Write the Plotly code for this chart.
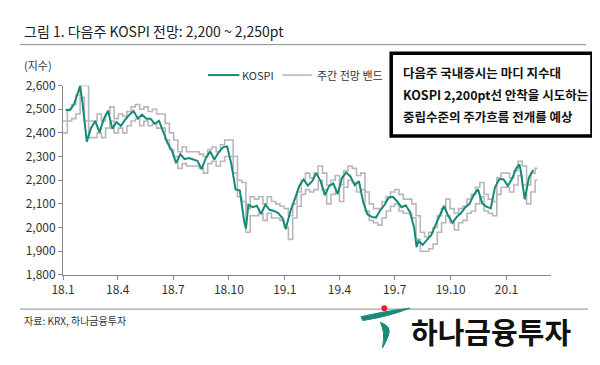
import pandas as pd
import plotly.graph_objects as go

# ---------------- data ----------------
kospi_weekly = [
    # 2018
    2497, 2496, 2521, 2574, 2525, 2363, 2421, 2450, 2402, 2459, 2494, 2417, 2446,
    2429, 2455, 2476, 2492, 2461, 2477, 2460, 2460, 2438, 2451, 2404, 2357, 2326,
    2272, 2310, 2289, 2294, 2287, 2282, 2247, 2293, 2322, 2287, 2318, 2339, 2343,
    2268, 2161, 2156, 2027, 2096, 2086, 2092, 2057, 2097, 2075, 2070, 2061, 2041,
    # 2019
    2010, 2075, 2124, 2177, 2203, 2177, 2196, 2230, 2195, 2137, 2176, 2186, 2141,
    2209, 2233, 2216, 2179, 2196, 2108, 2056, 2045, 2042, 2072, 2095, 2126, 2130,
    2110, 2086, 2094, 2066, 1998, 1943, 1927, 1948, 1968, 2010, 2049, 2091, 2050,
    2020, 2045, 2061, 2085, 2100, 2137, 2162, 2102, 2088, 2081, 2170, 2204, 2204,
    # 2020
    2176, 2206, 2250, 2246, 2119, 2212, 2243,
]
kospi_start = "2018-01-05"   # first weekly (Friday) observation

extreme_dates = ["2018-01-29", "2018-10-29", "2019-01-03", "2019-08-06", "2020-01-22"]
extreme_values = [2598, 1996, 1993, 1917, 2267]

band_lower = [
    # 2018
    2400, 2450, 2460, 2480, 2550, 2450, 2380, 2380, 2400, 2380, 2420, 2450, 2400,
    2420, 2400, 2430, 2450, 2460, 2430, 2450, 2430, 2440, 2420, 2420, 2370, 2330,
    2300, 2250, 2270, 2260, 2260, 2260, 2250, 2230, 2270, 2280, 2260, 2280, 2300,
    2300, 2230, 2130, 2110, 1980, 2050, 2050, 2060, 2030, 2060, 2040, 2040, 2030, 2000,
    # 2019
    1950, 2040, 2090, 2140, 2160, 2150, 2160, 2200, 2160, 2100, 2140, 2150, 2110,
    2170, 2200, 2190, 2150, 2160, 2070, 2030, 2020, 2010, 2040, 2070, 2090, 2100,
    2070, 2060, 2060, 2040, 1950, 1900, 1900, 1910, 1930, 1980, 2020, 2050, 2020,
    1990, 2020, 2030, 2060, 2070, 2100, 2130, 2070, 2060, 2050, 2140, 2170, 2170,
    # 2020
    2150, 2180, 2220, 2180, 2100, 2150, 2200,
]
band_upper = [
    # 2018
    2450, 2500, 2520, 2560, 2600, 2600, 2450, 2450, 2480, 2450, 2480, 2510, 2460,
    2480, 2470, 2490, 2510, 2520, 2500, 2510, 2490, 2500, 2480, 2480, 2440, 2400,
    2370, 2320, 2340, 2320, 2320, 2320, 2310, 2300, 2330, 2340, 2320, 2350, 2370,
    2370, 2300, 2200, 2190, 2080, 2130, 2120, 2130, 2100, 2130, 2110, 2100, 2090, 2080,
    # 2019
    2050, 2100, 2150, 2200, 2230, 2210, 2230, 2260, 2230, 2180, 2200, 2220, 2180,
    2240, 2260, 2250, 2220, 2230, 2150, 2100, 2080, 2080, 2110, 2130, 2150, 2160,
    2140, 2120, 2120, 2100, 2050, 1980, 1960, 1980, 2000, 2050, 2080, 2120, 2080,
    2060, 2080, 2090, 2120, 2140, 2170, 2190, 2140, 2120, 2110, 2210, 2230, 2230,
    # 2020
    2210, 2240, 2280, 2260, 2180, 2230, 2250,
]
band_start = "2018-01-01"    # first weekly (Monday) band

tick_dates = ["2018-01-01", "2018-04-01", "2018-07-01", "2018-10-01", "2019-01-01",
              "2019-04-01", "2019-07-01", "2019-10-01", "2020-01-01"]
tick_labels = ["18.1", "18.4", "18.7", "18.10", "19.1", "19.4", "19.7", "19.10", "20.1"]

y_ticks = [1800, 1900, 2000, 2100, 2200, 2300, 2400, 2500, 2600]

# ---------------- build series ----------------
kd = pd.date_range(kospi_start, periods=len(kospi_weekly), freq="W-FRI")
ks = pd.Series(kospi_weekly, index=kd)
ks = pd.concat([ks, pd.Series(extreme_values, index=pd.to_datetime(extreme_dates))]).sort_index()

bd = list(pd.date_range(band_start, periods=len(band_lower), freq="W-MON"))
bx = bd + [bd[-1] + pd.Timedelta(days=4)]
bl = band_lower + [band_lower[-1]]
bu = band_upper + [band_upper[-1]]

# page is 600x365 incl. the default 8px body margin -> figure 584x349
M = 8
W, H = 600 - 2 * M, 365 - 2 * M
def px(x): return (x - M) / W
def py(y): return 1 - (y - M) / H

TEAL = "#148a78"
GRAY = "#b8b8b8"
FONT = "Noto Sans CJK KR"

fig = go.Figure()
fig.add_trace(go.Scatter(x=bx, y=bu, mode="lines", line=dict(color=GRAY, width=1.6, shape="hv"),
                         name="주간 전망 밴드", showlegend=False))
fig.add_trace(go.Scatter(x=bx, y=bl, mode="lines", line=dict(color=GRAY, width=1.6, shape="hv"),
                         showlegend=False))
fig.add_trace(go.Scatter(x=ks.index, y=ks.values, mode="lines", line=dict(color=TEAL, width=2),
                         name="KOSPI", showlegend=False))

fig.update_layout(
    width=W, height=H, margin=dict(l=0, r=0, t=0, b=0),
    paper_bgcolor="white", plot_bgcolor="white",
    font=dict(family=FONT, color="#333", size=12),
    showlegend=False,
    xaxis=dict(domain=[px(52), px(550)], range=["2018-01-01", "2020-03-14"],
               tickvals=tick_dates, ticktext=tick_labels, ticks="outside", ticklen=4,
               tickcolor="#888", showline=True, linecolor="#888", linewidth=1,
               showgrid=False, zeroline=False, tickfont=dict(size=12, color="#333")),
    yaxis=dict(domain=[py(278), py(79)], range=[1800, 2600], tickvals=y_ticks,
               tickformat=",d", ticks="outside", ticklen=4, tickcolor="#888",
               showline=True, linecolor="#888", linewidth=1, showgrid=False,
               zeroline=False, tickfont=dict(size=12, color="#333")),
)

shapes = []
ann = []
# title and rules
ann.append(dict(x=px(10), y=py(22), xref="paper", yref="paper", xanchor="left", yanchor="middle",
                text="그림 1. 다음주 KOSPI 전망: 2,200 ~ 2,250pt", showarrow=False,
                font=dict(size=14, color="#222", family=FONT)))
shapes.append(dict(type="line", xref="paper", yref="paper", x0=0, x1=px(586), y0=py(36), y1=py(36),
                   line=dict(color="#8c8c8c", width=1)))
shapes.append(dict(type="line", xref="paper", yref="paper", x0=0, x1=px(588), y0=py(314), y1=py(314),
                   line=dict(color="#8c8c8c", width=1)))
ann.append(dict(x=px(10), y=py(57), xref="paper", yref="paper", xanchor="left", yanchor="middle",
                text="(지수)", showarrow=False, font=dict(size=11, color="#333", family=FONT)))
ann.append(dict(x=px(10), y=py(326), xref="paper", yref="paper", xanchor="left", yanchor="middle",
                text="자료: KRX, 하나금융투자", showarrow=False, font=dict(size=10, color="#333", family=FONT)))

# legend
shapes.append(dict(type="line", xref="paper", yref="paper", x0=px(200), x1=px(232), y0=py(68), y1=py(68),
                   line=dict(color=TEAL, width=2)))
ann.append(dict(x=px(233), y=py(68), xref="paper", yref="paper", xanchor="left", yanchor="middle",
                text="KOSPI", showarrow=False, font=dict(size=11, color="#333", family=FONT)))
shapes.append(dict(type="line", xref="paper", yref="paper", x0=px(276), x1=px(306), y0=py(68), y1=py(68),
                   line=dict(color=GRAY, width=1.6)))
ann.append(dict(x=px(309), y=py(68), xref="paper", yref="paper", xanchor="left", yanchor="middle",
                text="주간 전망 밴드", showarrow=False, font=dict(size=11, color="#333", family=FONT)))

# comment box
shapes.append(dict(type="rect", xref="paper", yref="paper", x0=px(387), x1=px(592), y0=py(45), y1=py(132),
                   line=dict(color="black", width=3.5), fillcolor="white"))
box_lines = ["다음주 국내증시는 마디 지수대",
             "KOSPI 2,200pt선 안착을 시도하는",
             "중립수준의 주가흐름 전개를 예상"]
for i, t in enumerate(box_lines):
    ann.append(dict(x=px(397), y=py(65 + 23.5 * i), xref="paper", yref="paper", xanchor="left",
                    yanchor="middle", text="<b>" + t + "</b>", showarrow=False,
                    font=dict(size=12.5, color="#111", family=FONT)))

# logo
def P(x, y): return f"{px(x):.4f},{py(y):.4f}"
swoosh = ("M " + P(356, 322) + " Q " + P(380, 316) + " " + P(406, 313) +
          " Q " + P(384, 322) + " " + P(358, 326) + " Z")
shapes.append(dict(type="path", xref="paper", yref="paper", path=swoosh,
                   fillcolor="#1a8a78", line=dict(color="#1a8a78", width=1)))
hook = ("M " + P(376, 328) + " Q " + P(388, 332) + " " + P(384, 342) +
        " Q " + P(381, 350) + " " + P(378, 355) + " Q " + P(380, 345) + " " + P(379, 338) +
        " Q " + P(378, 333) + " " + P(376, 328) + " Z")
shapes.append(dict(type="path", xref="paper", yref="paper", path=hook,
                   fillcolor="#1a8a78", line=dict(color="#1a8a78", width=1)))
shapes.append(dict(type="circle", xref="paper", yref="paper", x0=px(377), x1=px(383), y0=py(310), y1=py(316),
                   fillcolor="#e0202a", line=dict(color="#e0202a", width=0)))
ann.append(dict(x=px(405), y=py(337), xref="paper", yref="paper", xanchor="left", yanchor="middle",
                text="<b>하나금융투자</b>", showarrow=False,
                font=dict(size=29, color="#111", family=FONT)))

fig.update_layout(shapes=shapes, annotations=ann)
fig.write_html("out.html", config={"displayModeBar": False})
